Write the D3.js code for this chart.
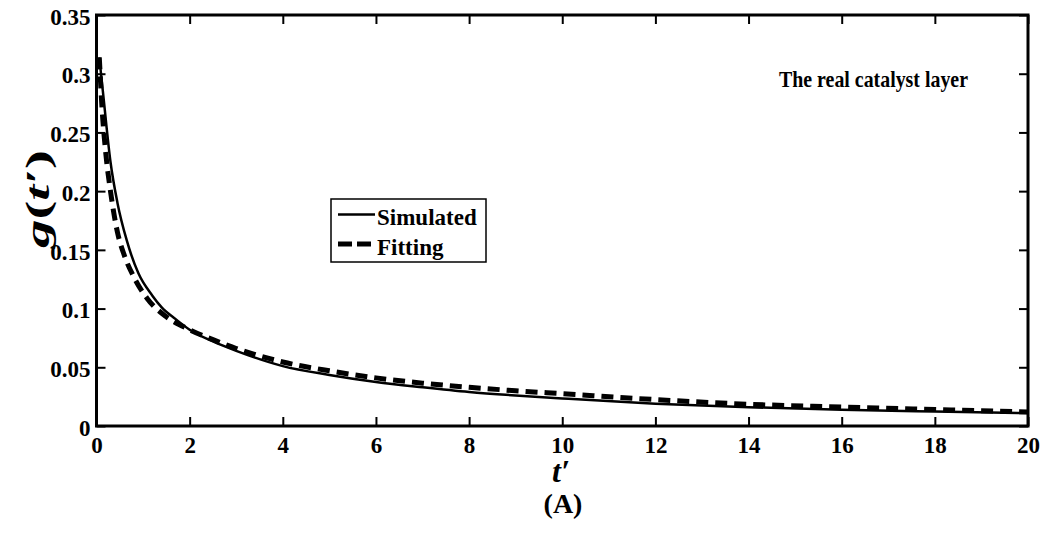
<!DOCTYPE html>
<html>
<head>
<meta charset="utf-8">
<script src="https://cdn.jsdelivr.net/npm/d3@7"></script>
<style>
  html, body { margin: 0; padding: 0; background: #fff; }
  svg { display: block; font-family: "Liberation Serif", "Times New Roman", serif; font-weight: bold; }
</style>
</head>
<body>
<svg id="chart" width="1044" height="536"></svg>
<script>
// ---- data ----
const simT = [0.06, 0.15, 0.3, 0.45, 0.65, 0.9, 1.2, 1.4, 1.7, 2, 2.5, 3, 4, 5, 6, 7, 8, 9, 10, 12, 14, 16, 18, 20];
const simG = [0.314, 0.28, 0.225, 0.19, 0.158, 0.13, 0.111, 0.101, 0.091, 0.082, 0.072, 0.064, 0.051, 0.0435, 0.0375, 0.033, 0.029, 0.026, 0.0235, 0.019, 0.016, 0.0138, 0.0123, 0.011];
const fitT = [0.06, 0.12, 0.2, 0.3, 0.45, 0.6, 0.8, 1.1, 1.5, 2, 2.5, 3, 4, 5, 6, 7, 8, 9, 10, 12, 14, 16, 18, 20];
const fitG = [0.314, 0.27, 0.232, 0.2, 0.165, 0.145, 0.127, 0.108, 0.093, 0.082, 0.0735, 0.066, 0.0545, 0.047, 0.041, 0.0365, 0.033, 0.030, 0.0275, 0.0225, 0.0185, 0.0162, 0.014, 0.012];
const xTicks = [0, 2, 4, 6, 8, 10, 12, 14, 16, 18, 20];
const yTicks = [0, 0.05, 0.1, 0.15, 0.2, 0.25, 0.3, 0.35];
const yTickLabels = ["0", "0.05", "0.1", "0.15", "0.2", "0.25", "0.3", "0.35"];
const seriesNames = ["Simulated", "Fitting"];
const titleText = "The real catalyst layer";
const panelLabel = "(A)";

// ---- layout ----
const svg = d3.select("#chart");
svg.append("rect").attr("width", 1044).attr("height", 536).attr("fill", "#fff");
const L = 96.5, R = 1028, T = 15, B = 426;
const x = d3.scaleLinear().domain([0, 20]).range([L, R]);
const y = d3.scaleLinear().domain([0, 0.35]).range([B, T]);

const line = d3.line().x(d => x(d[0])).y(d => y(d[1])).curve(d3.curveMonotoneX);
const simData = simT.map((t, i) => [t, simG[i]]);
const fitData = fitT.map((t, i) => [t, fitG[i]]);

svg.append("clipPath").attr("id", "clip").append("rect")
  .attr("x", L).attr("y", T).attr("width", R - L).attr("height", B - T);
const plot = svg.append("g").attr("clip-path", "url(#clip)");

plot.append("path").datum(simData).attr("d", line)
  .attr("fill", "none").attr("stroke", "#000").attr("stroke-width", 2.5);
plot.append("path").datum(fitData).attr("d", line)
  .attr("fill", "none").attr("stroke", "#000").attr("stroke-width", 5)
  .attr("stroke-dasharray", "12,7");

// axes (ticks inward on all sides)
const tickLen = 9;
const fs = 23;
const axB = svg.append("g").attr("transform", `translate(0,${B})`)
  .call(d3.axisBottom(x).tickValues(xTicks).tickSize(-tickLen).tickPadding(11).tickFormat(d3.format("d")));
const axT = svg.append("g").attr("transform", `translate(0,${T})`)
  .call(d3.axisTop(x).tickValues(xTicks).tickSize(-tickLen).tickFormat(""));
const axL = svg.append("g").attr("transform", `translate(${L},0)`)
  .call(d3.axisLeft(y).tickValues(yTicks).tickSize(-tickLen).tickPadding(6).tickFormat((d, i) => yTickLabels[i]));
const axR = svg.append("g").attr("transform", `translate(${R},0)`)
  .call(d3.axisRight(y).tickValues(yTicks).tickSize(-tickLen).tickFormat(""));

[axB, axT, axL, axR].forEach(g => {
  g.select(".domain").remove();
  g.selectAll(".tick line").attr("stroke", "#000").attr("stroke-width", 2);
  g.selectAll(".tick text").attr("fill", "#000")
    .style("font-family", '"Liberation Serif", serif').style("font-weight", "bold").style("font-size", fs + "px");
});
axL.selectAll(".tick text").attr("dy", "0.4em");

svg.append("rect").attr("x", L).attr("y", T).attr("width", R - L).attr("height", B - T)
  .attr("fill", "none").attr("stroke", "#000").attr("stroke-width", 3);

// axis labels
const yl = svg.append("text").attr("transform", `translate(49,199) rotate(-90)`)
  .attr("text-anchor", "middle").style("font-size", "34px")
  .attr("textLength", 98).attr("lengthAdjust", "spacingAndGlyphs");
yl.append("tspan").style("font-style", "italic").text("g");
yl.append("tspan").text("(");
yl.append("tspan").style("font-style", "italic").text("t′");
yl.append("tspan").text(")");

svg.append("text").attr("x", 561).attr("y", 482).attr("text-anchor", "middle")
  .style("font-size", "32px").style("font-style", "italic").text("t′");

svg.append("text").attr("x", 563).attr("y", 513).attr("text-anchor", "middle")
  .style("font-size", "28px").text(panelLabel);

svg.append("text").attr("x", 779).attr("y", 87).style("font-size", "23px")
  .attr("textLength", 189).attr("lengthAdjust", "spacingAndGlyphs").text(titleText);

// legend
const lg = svg.append("g");
lg.append("rect").attr("x", 331).attr("y", 199).attr("width", 155).attr("height", 63)
  .attr("fill", "#fff").attr("stroke", "#000").attr("stroke-width", 1.5);
const legendY = [214.5, 244];
seriesNames.forEach((name, i) => {
  lg.append("line").attr("x1", 338).attr("x2", 375).attr("y1", legendY[i]).attr("y2", legendY[i])
    .attr("stroke", "#000").attr("stroke-width", i === 0 ? 2.5 : 5)
    .attr("stroke-dasharray", i === 0 ? null : "14,5");
  lg.append("text").attr("x", 377).attr("y", legendY[i] + 10.5).style("font-size", "23px").text(name);
});
</script>
</body>
</html>
